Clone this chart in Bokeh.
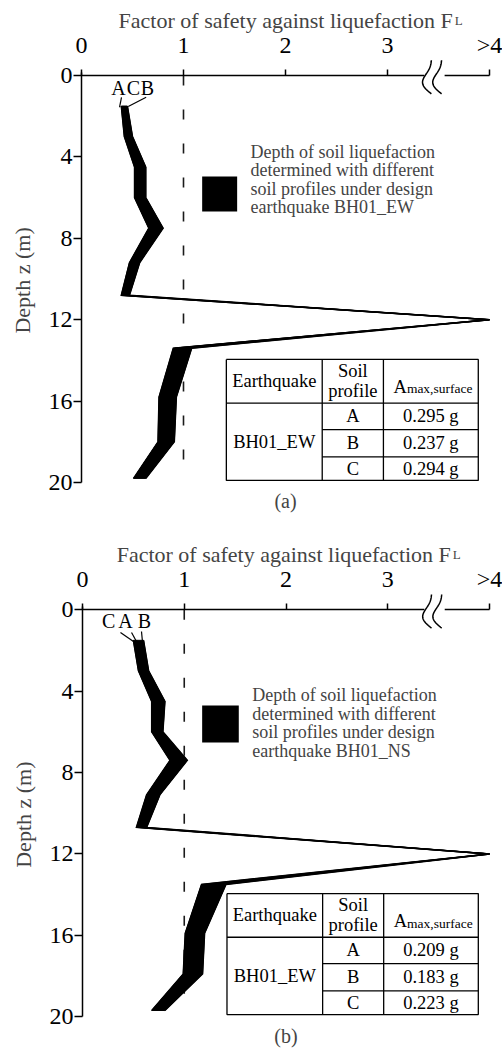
import numpy as np
from bokeh.plotting import figure
from bokeh.layouts import column
from bokeh.models import Range1d, FixedTicker, Label, PolyAnnotation, BoxAnnotation
from bokeh.core.properties import value
from bokeh.embed import file_html
from bokeh.resources import INLINE

FONT = "Liberation Serif"

# ---- data -------------------------------------------------------------
x_ticks = [0, 1, 2, 3, 4]
x_tick_labels = {4: ">4"}
y_ticks = [0, 4, 8, 12, 16, 20]
profiles = ["A", "B", "C"]
fl_critical = 1.0

# (a) design earthquake BH01_EW : depth (m) and factor of safety FL per soil profile
depth_ew = [1.5, 3.0, 4.5, 6.0, 7.5, 9.2, 10.8, 12.0, 13.4, 15.8, 18.0, 19.8]
fl_ew_A = [0.39, 0.42, 0.52, 0.52, 0.66, 0.47, 0.39, 4.0, 0.90, 0.76, 0.75, 0.51]
fl_ew_B = [0.45, 0.50, 0.63, 0.63, 0.80, 0.57, 0.47, 4.0, 1.08, 0.93, 0.91, 0.63]
fl_ew_C = [0.40, 0.43, 0.53, 0.53, 0.67, 0.48, 0.40, 4.0, 0.92, 0.78, 0.77, 0.53]
amax_ew = ["0.295 g", "0.237 g", "0.294 g"]

# (b) design earthquake BH01_NS
depth_ns = [1.5, 3.0, 4.5, 6.0, 7.4, 9.1, 10.7, 12.0, 13.5, 15.9, 17.9, 19.7]
fl_ns_A = [0.53, 0.58, 0.72, 0.71, 0.92, 0.68, 0.57, 4.0, 1.26, 1.08, 1.06, 0.73]
fl_ns_B = [0.60, 0.65, 0.81, 0.79, 1.03, 0.76, 0.63, 4.0, 1.41, 1.20, 1.18, 0.81]
fl_ns_C = [0.50, 0.55, 0.68, 0.68, 0.86, 0.63, 0.53, 4.0, 1.17, 1.01, 0.99, 0.68]
amax_ns = ["0.209 g", "0.183 g", "0.223 g"]

table_quake = "BH01_EW"


def panel(depth, series, amax, quake, caption, height, x0px, y0px, kx, ky,
          tags, legend_y, legend_box, title_x):
    # the frame fills the whole canvas; axes sit at FL = 0 and depth = 0
    W = 502
    p = figure(width=W, height=height,
               x_range=Range1d(-x0px / kx, (W - x0px) / kx),
               y_range=Range1d((height - y0px) / ky, -y0px / ky),
               x_axis_location="above", output_backend="svg", toolbar_location=None,
               min_border=0)
    p.outline_line_color = None
    p.grid.visible = False
    p.background_fill_color = "white"

    for ax in (p.xaxis[0], p.yaxis[0]):
        ax.fixed_location = 0
        ax.axis_line_width = 1.5
        ax.major_tick_line_width = 1.5
        ax.minor_tick_line_color = None
        ax.major_tick_in = 0
        ax.major_label_text_font = FONT
        ax.major_label_text_font_size = "24px"
        ax.major_label_text_color = "black"
    p.xaxis.ticker = FixedTicker(ticks=x_ticks)
    p.xaxis.major_label_overrides = x_tick_labels
    p.xaxis.major_tick_out = 6
    p.xaxis.major_label_standoff = 12
    p.xaxis.bounds = (x_ticks[0], x_ticks[-1])
    p.yaxis.ticker = FixedTicker(ticks=y_ticks)
    p.yaxis.major_tick_out = 8
    p.yaxis.major_label_standoff = 1
    p.yaxis.bounds = (-0.15, y_ticks[-1])

    p.add_layout(Label(x=-0.578, y=10.07, text="Depth z (m)", angle=np.pi / 2,
                       text_align="center", text_baseline="middle",
                       text_font=FONT, text_font_size="22px"))

    # axis title with subscript
    p.add_layout(Label(x=title_x, y=-2.72, text="Factor of safety against liquefaction F",
                       text_align="right", text_baseline="alphabetic",
                       text_font=FONT, text_font_size="22px"))
    p.add_layout(Label(x=title_x + 0.02, y=-2.72, text="L", text_align="left",
                       text_baseline="alphabetic", text_font=FONT, text_font_size="13px"))

    # axis break between 3 and >4
    p.add_layout(PolyAnnotation(xs=[3.36, 3.56, 3.56, 3.36], ys=[-0.1, -0.1, 0.1, 0.1],
                                fill_color="white", fill_alpha=1, line_color=None))
    t = np.linspace(0, 1, 40)
    for xc in (3.43, 3.53):
        cx = list(xc - 0.07 * np.sin(np.pi * t) + 0.03 * np.sin(2 * np.pi * t))
        cy = list(-0.75 + 1.65 * t)
        p.add_layout(PolyAnnotation(xs=cx + cx[::-1], ys=cy + cy[::-1], fill_alpha=0,
                                    line_color="black", line_alpha=1, line_width=1.5))

    # FL = 1 reference line
    p.line([fl_critical, fl_critical], [y_ticks[0], y_ticks[-1]], line_color="#1a1a1a",
           line_width=1.6, line_dash="10 24")

    # liquefaction band between the soil profiles
    arr = np.array([series[k] for k in profiles])
    left = arr.min(axis=0)
    right = arr.max(axis=0)
    p.patch(list(left) + list(right[::-1]), list(depth) + list(depth[::-1]),
            fill_color="black", line_color="black", line_width=1)
    for k in profiles:
        p.line(series[k], depth, line_color="black", line_width=1.5, line_join="miter")

    # profile tags with leaders
    names, tx, ty, segs = tags
    p.text(x=tx, y=[ty] * len(tx), text=names, text_font=value(FONT),
           text_font_size=value("20px"), text_align="center", text_baseline="middle")
    p.segment(x0=[s[0] for s in segs], y0=[s[1] for s in segs],
              x1=[s[2] for s in segs], y1=[s[3] for s in segs],
              line_color="black", line_width=1.2)

    # legend
    l, r, tp, bt = legend_box
    p.add_layout(BoxAnnotation(left=l, right=r, top=tp, bottom=bt, fill_color="black",
                               fill_alpha=1, line_color=None))
    lines = ["Depth of soil liquefaction", "determined with different",
             "soil profiles under design", "earthquake " + quake]
    lx, ly0, dly = legend_y
    for i, s in enumerate(lines):
        p.add_layout(Label(x=lx, y=ly0 + i * dly, text=s, text_align="left",
                           text_baseline="middle", text_font=FONT, text_font_size="18px"))

    # table of peak surface accelerations
    L, C1, C2, R = 1.42, 2.36, 2.96, 3.89
    T, H, R1, R2, B = 13.95, 16.1, 17.4, 18.74, 19.9
    p.quad(left=[L], right=[R], top=[T], bottom=[B], fill_color="white", line_color=None)
    p.multi_line(xs=[[L, R, R, L, L], [L, R], [C1, C1], [C2, C2], [C1, R], [C1, R]],
                 ys=[[T, T, B, B, T], [H, H], [T, B], [T, B], [R1, R1], [R2, R2]],
                 line_color="black", line_width=1.3)
    rows_y = [(H + R1) / 2, (R1 + R2) / 2, (R2 + B) / 2]
    p.text(x=[(L + C1) / 2, (C1 + C2) / 2, (C1 + C2) / 2, (L + C1) / 2],
           y=[(T + H) / 2, 14.5, 15.5, (H + B) / 2],
           text=["Earthquake", "Soil", "profile", table_quake],
           text_font=value(FONT), text_font_size=value("18.5px"),
           text_align="center", text_baseline="middle")
    p.text(x=[(C1 + C2) / 2] * 3, y=rows_y, text=profiles, text_font=value(FONT),
           text_font_size=value("18.5px"), text_align="center", text_baseline="middle")
    p.text(x=[(C2 + R) / 2] * 3, y=rows_y, text=amax, text_font=value(FONT),
           text_font_size=value("18.5px"), text_align="center", text_baseline="middle")
    p.text(x=[3.19], y=[15.3], text=["A"], text_font=value(FONT),
           text_font_size=value("18.5px"), text_align="right", text_baseline="alphabetic")
    p.text(x=[3.19], y=[15.4], text=["max,surface"], text_font=value(FONT),
           text_font_size=value("13.5px"), text_align="left", text_baseline="alphabetic")

    # caption
    p.add_layout(Label(x=2.0, y=20.93, text=caption, text_align="center",
                       text_baseline="middle", text_font=FONT, text_font_size="20px"))
    return p


p1 = panel(depth_ew, {"A": fl_ew_A, "B": fl_ew_B, "C": fl_ew_C}, amax_ew, "BH01_EW", "(a)",
           522, 81.0, 75.0, 102.0, 20.35,
           (["A", "C", "B"], [0.363, 0.51, 0.647], 0.59,
            [(0.392, 1.07, 0.373, 1.56), (0.634, 1.07, 0.458, 1.52)]),
           (1.657, 3.77, 0.895), (1.183, 1.526, 4.96, 6.68), 3.64)
p2 = panel(depth_ns, {"A": fl_ns_A, "B": fl_ns_B, "C": fl_ns_C}, amax_ns, "BH01_NS", "(b)",
           531, 82.0, 87.3, 101.75, 20.34,
           (["C", "A", "B"], [0.256, 0.423, 0.609], 0.53,
            [(0.373, 1.12, 0.501, 1.56), (0.482, 1.12, 0.541, 1.66), (0.58, 1.07, 0.59, 1.61)]),
           (1.668, 4.21, 0.903), (1.176, 1.536, 4.70, 6.52), 3.62)

layout = column(p1, p2, spacing=0)
open("out.html", "w").write(file_html(layout, INLINE))
